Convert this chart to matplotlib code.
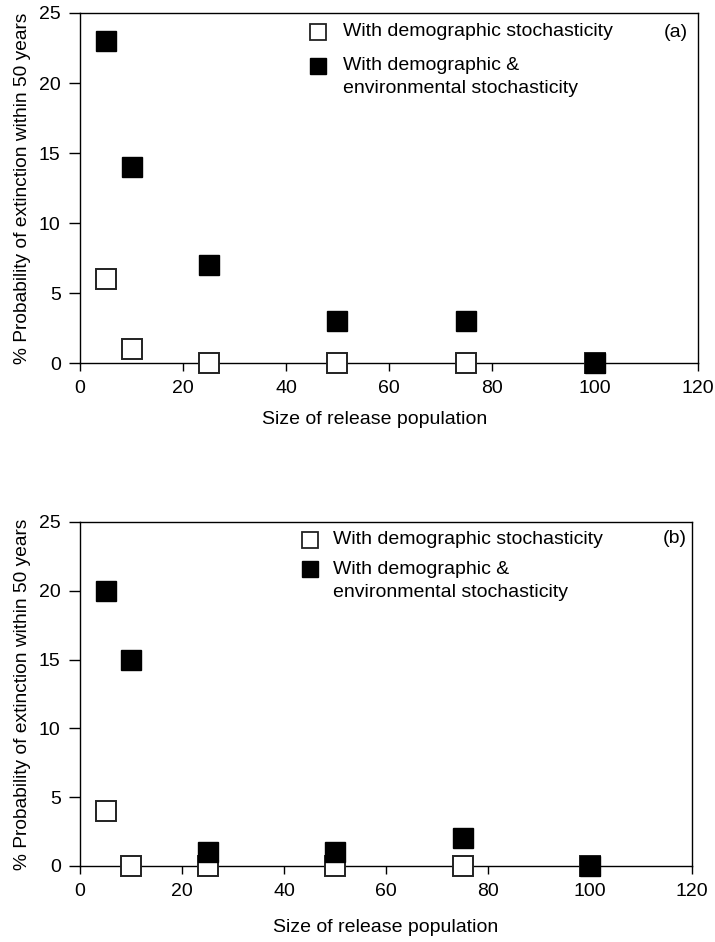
import numpy as np
import matplotlib.pyplot as plt

plt.rcParams['font.family'] = ['Liberation Sans', 'DejaVu Sans']
plt.rcParams['font.size'] = 14

release_size = [5, 10, 25, 50, 75, 100]

# panel (a)
demo_a = [6, 1, 0, 0, 0, 0]
demo_env_a = [23, 14, 7, 3, 3, 0]
# panel (b)
demo_b = [4, 0, 0, 0, 0, 0]
demo_env_b = [20, 15, 1, 1, 2, 0]

lab_demo = 'With demographic stochasticity'
lab_env = ['With demographic &', 'environmental stochasticity']
xlabel = 'Size of release population'
ylabel = '% Probability of extinction within 50 years'

fig = plt.figure(figsize=(7.15, 9.42), dpi=100)
ax_a = fig.add_axes([0.112, 0.6146, 0.864, 0.3716])
ax_b = fig.add_axes([0.112, 0.0807, 0.856, 0.3652])

# key placement per panel: handle x, text x, row1 y, row2 y, line gap, tag x, tag y, xlabel x, labelpad
keys = {
    'a': (0.385, 0.426, 0.946, 0.849, 0.066, 0.984, 0.943, 0.476, 10.5),
    'b': (0.376, 0.413, 0.948, 0.862, 0.067, 0.992, 0.953, 0.5, 14),
}

for ax, demo, env, tag in [(ax_a, demo_a, demo_env_a, 'a'),
                           (ax_b, demo_b, demo_env_b, 'b')]:
    ax.plot(release_size, demo, ls='none', marker='s', ms=13.7, mfc='white',
            mec='#222222', mew=1.4, clip_on=False, zorder=3)
    ax.plot(release_size, env, ls='none', marker='s', ms=13.7, mfc='black',
            mec='black', mew=1.0, clip_on=False, zorder=4)
    ax.set_xlim(0, 120)
    ax.set_ylim(0, 25)
    ax.set_xticks(np.arange(0, 121, 20))
    ax.set_yticks(np.arange(0, 26, 5))
    ax.tick_params(direction='out', length=6, width=1.0, pad=6, labelsize=14)
    ax.tick_params(axis='y', length=8)
    for s in ax.spines.values():
        s.set_linewidth(1.0)

    hx, tx, y1, y2, gap, gx, gy, lx, lpad = keys[tag]
    ax.set_xlabel(xlabel, labelpad=lpad, fontsize=14)
    ax.xaxis.label.set_x(lx)
    ax.set_ylabel(ylabel, labelpad=6, fontsize=13.8)

    ax.plot([hx], [y1], transform=ax.transAxes, marker='s', ms=11.5,
            mfc='white', mec='#222222', mew=1.3, clip_on=False)
    ax.plot([hx], [y2], transform=ax.transAxes, marker='s', ms=11.5,
            mfc='black', mec='black', clip_on=False)
    ax.text(tx, y1, lab_demo, transform=ax.transAxes, ha='left', va='center')
    ax.text(tx, y2, lab_env[0], transform=ax.transAxes, ha='left', va='center')
    ax.text(tx, y2 - gap, lab_env[1], transform=ax.transAxes, ha='left',
            va='center')
    ax.text(gx, gy, '(%s)' % tag, transform=ax.transAxes, ha='right',
            va='center')

fig.savefig('out.png', dpi=100)
